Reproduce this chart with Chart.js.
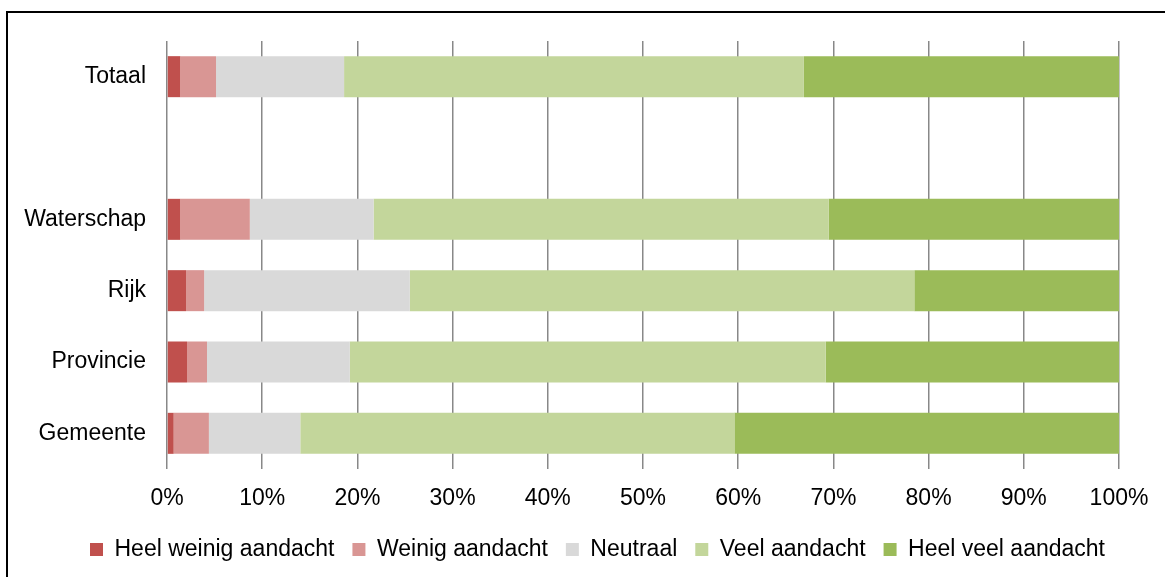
<!DOCTYPE html>
<html>
<head>
<meta charset="utf-8">
<script src="https://cdn.jsdelivr.net/npm/chart.js@4/dist/chart.umd.min.js"></script>
<style>
    html, body { margin: 0; padding: 0; background: #fff; overflow: hidden; }
    #frame { position: absolute; left: 6px; top: 11px; border: 2px solid #000; }
    canvas { display: block; }
</style>
</head>
<body>
<div id="frame"><canvas id="chart" width="1180" height="590"></canvas></div>
<script>
// categorieën (lege regel tussen Totaal en de rest)
const categories = ["Totaal", "", "Waterschap", "Rijk", "Provincie", "Gemeente"];

// percentages per antwoordcategorie
const heelWeinig = [1.4, null, 1.4, 2.0, 2.1, 0.7];
const weinig     = [3.75, null, 7.3, 1.9, 2.1, 3.7];
const neutraal   = [13.45, null, 13.0, 21.6, 15.0, 9.6];
const veel       = [48.3, null, 47.8, 53.0, 50.0, 45.6];
const heelVeel   = [33.1, null, 30.5, 21.5, 30.8, 40.4];

const seriesNames = ["Heel weinig aandacht", "Weinig aandacht", "Neutraal", "Veel aandacht", "Heel veel aandacht"];
const seriesColors = ["#C0504D", "#D99694", "#D9D9D9", "#C3D69B", "#9BBB59"];
const xTicks = [0, 10, 20, 30, 40, 50, 60, 70, 80, 90, 100];

const font = {family: "'Liberation Sans', Arial, sans-serif", size: 23};

const canvas = document.querySelector("#chart");
const seriesData = [heelWeinig, weinig, neutraal, veel, heelVeel];

// legenda iets naar rechts, zodat die in het midden van het kader staat
const shiftLegend = {
    id: "shiftLegend",
    afterLayout: chart => {
        chart.legend.left += 34;
        chart.legend.right += 34;
    }
};

new Chart(canvas, {
    type: "bar",
    data: {
        labels: categories,
        datasets: seriesData.map((values, i) => ({
            label: seriesNames[i],
            data: values,
            backgroundColor: seriesColors[i],
            borderWidth: 0,
            barPercentage: 0.575,
            categoryPercentage: 1
        }))
    },
    options: {
        indexAxis: "y",
        responsive: false,
        animation: false,
        devicePixelRatio: 1,
        layout: {padding: {top: 28, right: 69, left: 0, bottom: 32}},
        scales: {
            x: {
                stacked: true,
                min: 0,
                max: 100,
                afterBuildTicks: scale => { scale.ticks = xTicks.map(v => ({value: v})); },
                afterFit: scale => { scale.height = 51; },
                grid: {color: "#888", lineWidth: 1.5, drawTicks: false},
                border: {display: false},
                ticks: {
                    font: font,
                    color: "#000",
                    padding: 16,
                    maxRotation: 0,
                    callback: v => v + "%"
                }
            },
            y: {
                stacked: true,
                afterFit: scale => {
                    scale.width = 159;
                    scale.paddingTop = 0;
                    scale.paddingBottom = 0;
                },
                grid: {display: false, drawTicks: false},
                border: {display: false},
                ticks: {font: font, color: "#000", padding: 21}
            }
        },
        plugins: {
            legend: {
                position: "bottom",
                labels: {
                    font: font,
                    color: "#000",
                    boxWidth: 13,
                    boxHeight: 13,
                    padding: 18
                }
            },
            tooltip: {enabled: false}
        }
    },
    plugins: [shiftLegend]
});
</script>
</body>
</html>
